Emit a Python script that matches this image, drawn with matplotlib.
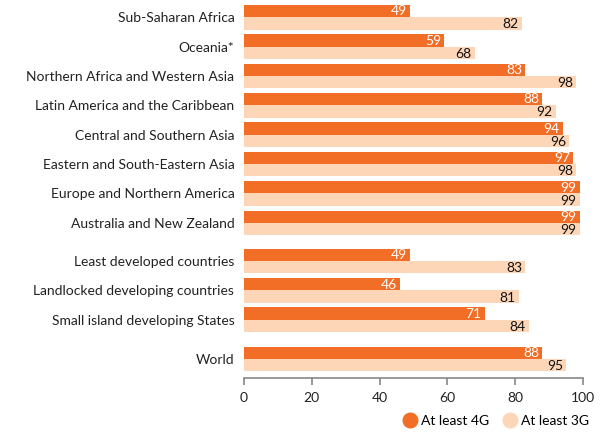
import matplotlib
matplotlib.use("Agg")
import matplotlib.pyplot as plt
from matplotlib.lines import Line2D

categories = ["Sub-Saharan Africa", "Oceania*", "Northern Africa and Western Asia",
              "Latin America and the Caribbean", "Central and Southern Asia",
              "Eastern and South-Eastern Asia", "Europe and Northern America",
              "Australia and New Zealand", "Least developed countries",
              "Landlocked developing countries", "Small island developing States", "World"]
at_least_4g = [49, 59, 83, 88, 94, 97, 99, 99, 49, 46, 71, 88]
at_least_3g = [82, 68, 98, 92, 96, 98, 99, 99, 83, 81, 84, 95]
positions = [0, 1, 2, 3, 4, 5, 6, 7, 8.3, 9.3, 10.3, 11.63]
xticks = [0, 20, 40, 60, 80, 100]

c4 = "#F26D25"
c3 = "#FDD6B8"
plt.rcParams['font.family'] = ['Lato', 'DejaVu Sans']

fig = plt.figure(figsize=(6.05, 4.33), dpi=100)
ax = fig.add_axes([244/605, 1-378/433, (583-244)/605, (378-4)/433])
h = 0.42
ax.barh([p - h/2 for p in positions], at_least_4g, height=h, color=c4)
ax.barh([p + h/2 for p in positions], at_least_3g, height=h, color=c3)
for p, v4, v3 in zip(positions, at_least_4g, at_least_3g):
    ax.text(v4 - 0.9, p - h/2 + 0.01, str(v4), ha="right", va="center", color="white", fontsize=10)
    ax.text(v3 - 0.9, p + h/2 + 0.03, str(v3), ha="right", va="center", color="#111111", fontsize=10)

ax.set_ylim(12.28, -0.45)
ax.set_xlim(0, 100)
ax.set_yticks(positions)
ax.set_yticklabels(categories, fontsize=10, color="#222222")
ax.tick_params(axis="y", length=0, pad=7)
ax.set_xticks(xticks)
ax.set_xticklabels([str(t) for t in xticks], fontsize=10, color="#222222")
ax.tick_params(axis="x", length=5, color="#888888", width=1.2, pad=5)
for s in ["top", "right", "left"]:
    ax.spines[s].set_visible(False)
ax.spines["bottom"].set_color("#888888")
ax.spines["bottom"].set_linewidth(1.2)

handles = [Line2D([], [], marker="o", linestyle="", markersize=10.5, color=c4),
           Line2D([], [], marker="o", linestyle="", markersize=10.5, color=c3)]
fig.legend(handles, ["At least 4G", "At least 3G"], loc="center right",
           bbox_to_anchor=(0.995, 1-421/433), ncol=2, frameon=False, fontsize=10,
           handletextpad=0.3, columnspacing=1.0, handlelength=1.0)

fig.savefig("out.png", dpi=100)
